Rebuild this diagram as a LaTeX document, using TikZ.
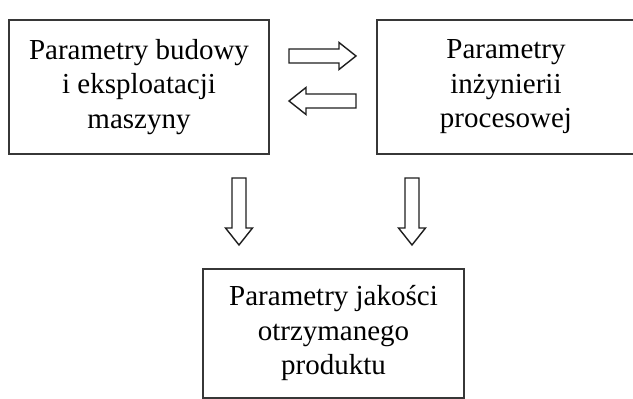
\documentclass[tikz,border=0pt]{standalone}
\usepackage{fontspec}
\setmainfont{Liberation Serif}
\usetikzlibrary{positioning}
\definecolor{boxline}{RGB}{55,55,55}
\definecolor{arrowline}{RGB}{30,30,30}
\tikzset{
  param/.style={
    draw=boxline,
    line width=2pt,
    align=center,
    inner sep=0pt,
    font=\fontsize{29}{34.5}\selectfont
  },
  hollow/.pic={
    % shaft 50 long, head 17 long
    \draw[draw=arrowline,line width=1.4pt,fill=white,line join=miter]
      (0,-7) -- (50,-7) -- (50,-13.5) -- (67,0) -- (50,13.5) -- (50,7) -- (0,7) -- cycle;
  }
}

\begin{document}
\begin{tikzpicture}[x=1pt,y=1pt]

  \useasboundingbox (0,0) rectangle (633,399);
  \clip (0,0) rectangle (633,399);

  \node[param,minimum width=260,minimum height=134] at (139,312) (machine) {
    Parametry budowy\\i eksploatacji\\maszyny
  };

  \node[param,minimum width=258,minimum height=134] at (506,312) (process) {
    Parametry\\inżynierii\\procesowej
  };

  \node[param,minimum width=261,minimum height=129] at (333.5,65.5) (quality) {
    Parametry jakości\\otrzymanego\\produktu
  };

  \pic at (289,343) {hollow};
  \pic[rotate=180] at (356,298) {hollow};
  \pic[rotate=-90] at (239,221) {hollow};
  \pic[rotate=-90] at (412,221) {hollow};

\end{tikzpicture}
\end{document}
